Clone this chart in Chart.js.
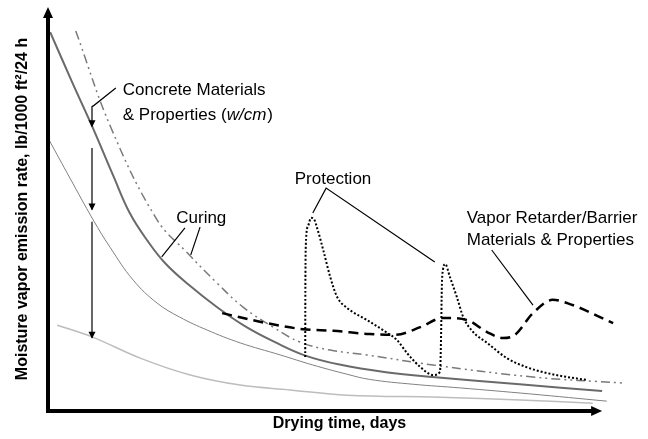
<!DOCTYPE html>
<html>
<head>
<meta charset="utf-8">
<script src="https://cdn.jsdelivr.net/npm/chart.js@4.4.1/dist/chart.umd.min.js"></script>
<style>
html,body{margin:0;padding:0;background:#fff;}
#wrap{width:648px;height:439px;position:relative;}
</style>
</head>
<body>
<div id="wrap"><canvas id="c" width="648" height="439"></canvas></div>
<script>
// ---- data (drying time in arbitrary days units, emission rate in arbitrary units) ----
const xTitle = "Drying time, days";
const yTitle = "Moisture vapor emission rate, lb/1000 ft\u00B2/24 h";

const curingX  = [0.2, 4, 7.6, 11, 13.9, 17, 20, 24, 29, 34, 39, 44, 50, 58, 66, 81, 95.2];
const curingY  = [94, 81.5, 70, 58.5, 49, 42, 36.5, 31.2, 25.5, 20.6, 16.8, 13.6, 11.3, 9.4, 8.2, 6.4, 4.7];

const poorCuringX = [4.6, 10.7, 18.6, 23.8, 28.9, 33.4, 38.6, 43.2, 48.4, 54.7, 66.1, 83.3, 98.8];
const poorCuringY = [94.3, 70.1, 47.3, 39.1, 31.6, 25.6, 20.6, 16.9, 14.9, 13.7, 11.2, 8.2, 6.7];

const lowerWcmX = [0, 3.6, 7.6, 10.5, 14.5, 18.6, 22.5, 27.2, 32.9, 39.8, 45.4, 51.3, 55.2, 62.7, 70.7, 82.8, 96.0];
const lowerWcmY = [67.2, 57.7, 47.3, 40.5, 32.3, 26.6, 23.1, 19.9, 16.7, 13.7, 11.2, 8.9, 7.6, 6.4, 5.5, 4.0, 2.2];

const lowestWcmX = [1.4, 7.4, 15.7, 24.3, 32.9, 41.5, 51.3, 67.3, 81.1, 93.6];
const lowestWcmY = [21.1, 18.2, 12.9, 8.7, 6.2, 5.0, 3.7, 3.2, 2.5, 1.7];

const retarderX = [29.8, 37.5, 43.7, 48.9, 55.2, 59.6, 63.9, 67.8, 71.9, 75.4, 78.1, 80.2, 83.3, 86.7, 89.2, 97.1];
const retarderY = [24.1, 21.6, 20.1, 19.7, 18.9, 18.7, 20.6, 22.9, 22.4, 19.4, 17.9, 18.7, 24.1, 27.4, 26.6, 21.6];

const protectionX = [44.1, 44.12, 44.2, 44.6, 45.1, 45.6, 46.1, 47.2, 48.4, 49.6, 51.3, 54.7, 58.2, 59.9, 61.6, 63.9, 66.1, 67.3, 67.5, 67.6, 67.8, 68.2, 69.0, 70.2, 71.3, 73.0, 75.4, 78.8, 82.3, 85.7, 89.2, 92.6];
const protectionY = [13.2, 27.4, 41.0, 45.8, 47.8, 47.5, 45.5, 39.8, 33.1, 28.1, 25.4, 22.4, 19.2, 17.4, 14.2, 10.7, 8.7, 9.5, 19.9, 29.9, 34.8, 36.3, 33.1, 28.1, 23.1, 19.4, 16.7, 12.9, 10.6, 9.2, 8.2, 7.5];

const xAxisEnd = 95.2;

// annotation labels
const labelConcrete1 = "Concrete Materials";
const labelConcrete2a = "& Properties (";
const labelConcrete2b = "w/cm";
const labelConcrete2c = ")";
const labelCuring = "Curing";
const labelProtection = "Protection";
const labelVapor1 = "Vapor Retarder/Barrier";
const labelVapor2 = "Materials & Properties";

// ---- build ----
const pts = (xs, ys) => xs.map((v, i) => ({x: v, y: ys[i]}));
Chart.defaults.font.family = "'Liberation Sans', Arial, sans-serif";
Chart.defaults.color = '#000';

const FONT = "17px 'Liberation Sans', Arial, sans-serif";
const FONT_I = "italic 17px 'Liberation Sans', Arial, sans-serif";

const annotPlugin = {
  id: 'annot',
  afterDraw(chart) {
    const ctx = chart.ctx;
    const xs = chart.scales.x, ys = chart.scales.y;
    const X = v => xs.getPixelForValue(v), Y = v => ys.getPixelForValue(v);
    const ca = chart.chartArea;
    ctx.save();
    // axes
    ctx.strokeStyle = '#000'; ctx.fillStyle = '#000';
    ctx.lineWidth = 4; ctx.lineCap = 'butt';
    const ax = ca.left - 1, ay = ca.bottom + 1;
    ctx.beginPath(); ctx.moveTo(ax, ay + 2); ctx.lineTo(ax, ca.top + 8); ctx.stroke();
    ctx.beginPath(); ctx.moveTo(ax - 2, ay); ctx.lineTo(X(xAxisEnd) - 8, ay); ctx.stroke();
    ctx.beginPath(); ctx.moveTo(ax, ca.top - 1); ctx.lineTo(ax - 5, ca.top + 10); ctx.lineTo(ax + 5, ca.top + 10); ctx.closePath(); ctx.fill();
    const xe = X(xAxisEnd);
    ctx.beginPath(); ctx.moveTo(xe, ay); ctx.lineTo(xe - 11, ay - 5); ctx.lineTo(xe - 11, ay + 5); ctx.closePath(); ctx.fill();

    // leader lines
    ctx.lineWidth = 1.2;
    const line = (a, b, c, d) => { ctx.beginPath(); ctx.moveTo(X(a), Y(b)); ctx.lineTo(X(c), Y(d)); ctx.stroke(); };
    const arrowDown = (a, b, d) => {
      line(a, b, a, d);
      const px = X(a), py = Y(d);
      ctx.beginPath(); ctx.moveTo(px, py + 1); ctx.lineTo(px - 3.5, py - 6); ctx.lineTo(px + 3.5, py - 6); ctx.closePath(); ctx.fill();
    };
    // concrete
    ctx.beginPath(); ctx.moveTo(X(11.5), Y(80.1)); ctx.lineTo(X(7.6), Y(75.6)); ctx.lineTo(X(7.4), Y(75.6)); ctx.stroke();
    arrowDown(7.4, 75.6, 70.6);
    arrowDown(7.4, 65.2, 49.9);
    arrowDown(7.4, 46.8, 18.0);
    // curing
    line(23.4, 45.3, 19.4, 38.1);
    line(26.0, 45.5, 24.4, 38.6);
    // protection
    ctx.beginPath(); ctx.moveTo(X(45.4), Y(49.0)); ctx.lineTo(X(47.7), Y(55.2)); ctx.lineTo(X(66.4), Y(36.8)); ctx.stroke();
    // vapor
    line(76.2, 39.8, 83.3, 26.1);

    // texts
    ctx.textBaseline = 'middle'; ctx.textAlign = 'left';
    ctx.font = FONT;
    ctx.fillText(labelConcrete1, X(12.7), Y(79.4));
    let tx = X(12.7); const ty = Y(73.3);
    ctx.fillText(labelConcrete2a, tx, ty); tx += ctx.measureText(labelConcrete2a).width;
    ctx.font = FONT_I; ctx.fillText(labelConcrete2b, tx, ty); tx += ctx.measureText(labelConcrete2b).width + 1;
    ctx.font = FONT; ctx.fillText(labelConcrete2c, tx, ty);
    ctx.fillText(labelCuring, X(21.9), Y(47.8));
    ctx.fillText(labelProtection, X(42.3), Y(57.5));
    ctx.fillText(labelVapor1, X(71.9), Y(47.8));
    ctx.fillText(labelVapor2, X(71.9), Y(42.3));
    ctx.restore();
  }
};

new Chart(document.getElementById('c'), {
  type: 'line',
  data: {
    datasets: [
      { data: pts(protectionX, protectionY), borderColor: '#000', borderWidth: 2, borderDash: [2, 2], cubicInterpolationMode: 'monotone' },
      { data: pts(retarderX, retarderY), borderColor: '#000', borderWidth: 2.5, borderDash: [10, 6], cubicInterpolationMode: 'monotone' },
      { data: pts(curingX, curingY), borderColor: '#6a6a6a', borderWidth: 2, tension: 0.4 },
      { data: pts(poorCuringX, poorCuringY), borderColor: '#7a7a7a', borderWidth: 1.5, borderDash: [9, 4, 2, 4, 2, 4], tension: 0.4 },
      { data: pts(lowerWcmX, lowerWcmY), borderColor: '#808080', borderWidth: 1, tension: 0.4 },
      { data: pts(lowestWcmX, lowestWcmY), borderColor: '#bdbdbd', borderWidth: 1.5, tension: 0.4 }
    ]
  },
  options: {
    responsive: false,
    animation: false,
    devicePixelRatio: 1,
    layout: { padding: { left: 0, top: 8, right: 18, bottom: 0 } },
    elements: { point: { radius: 0 } },
    plugins: { legend: { display: false }, tooltip: { enabled: false } },
    scales: {
      x: {
        type: 'linear', min: 0, max: 100,
        grid: { display: false, drawTicks: false }, border: { display: false },
        ticks: { display: false },
        title: { display: true, text: xTitle, font: { size: 16, weight: 'bold' }, color: '#000', padding: { top: 4.4, bottom: 5.4 } }
      },
      y: {
        type: 'linear', min: 0, max: 100,
        grid: { display: false, drawTicks: false }, border: { display: false },
        ticks: { display: false },
        title: { display: true, text: yTitle, font: { size: 16, weight: 'bold' }, color: '#000', padding: { top: 12.5, bottom: 17.3 } }
      }
    }
  },
  plugins: [annotPlugin]
});
</script>
</body>
</html>
